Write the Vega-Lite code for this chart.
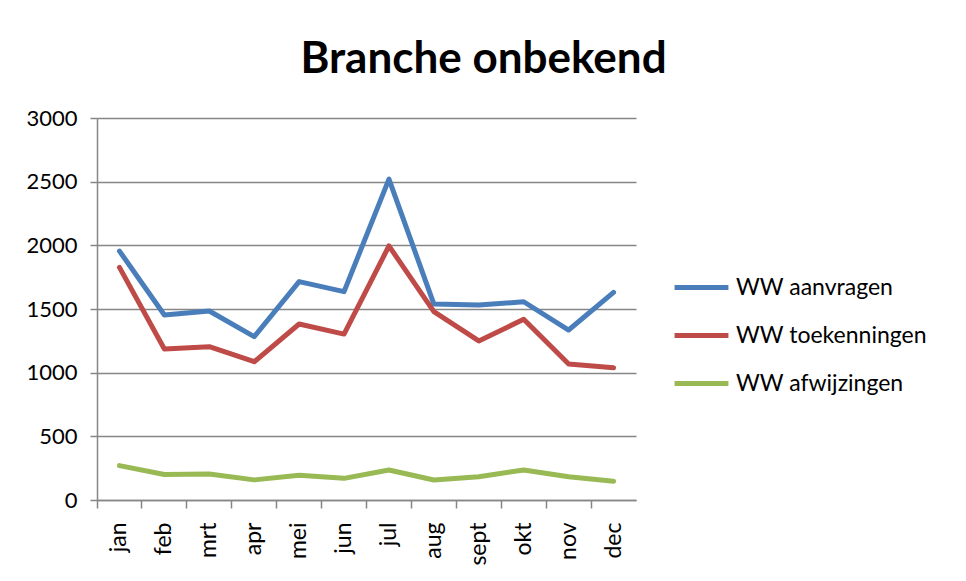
{
  "$schema": "https://vega.github.io/schema/vega-lite/v6.json",
  "autosize": {"type": "none"},
  "width": 539,
  "height": 382,
  "padding": {"left": 97, "top": 118, "right": 330, "bottom": 81},
  "background": "white",
  "title": {
    "text": "Branche onbekend",
    "font": "Lato",
    "fontSize": 44,
    "fontWeight": "bold",
    "color": "#000000",
    "anchor": "middle",
    "dx": 117,
    "offset": 25
  },
  "config": {
    "view": {"stroke": null},
    "font": "Lato"
  },
  "data": {
    "values": [
      {"maand": "jan", "reeks": "WW aanvragen", "waarde": 1955},
      {"maand": "feb", "reeks": "WW aanvragen", "waarde": 1453},
      {"maand": "mrt", "reeks": "WW aanvragen", "waarde": 1484},
      {"maand": "apr", "reeks": "WW aanvragen", "waarde": 1283},
      {"maand": "mei", "reeks": "WW aanvragen", "waarde": 1715},
      {"maand": "jun", "reeks": "WW aanvragen", "waarde": 1636},
      {"maand": "jul", "reeks": "WW aanvragen", "waarde": 2520},
      {"maand": "aug", "reeks": "WW aanvragen", "waarde": 1539},
      {"maand": "sept", "reeks": "WW aanvragen", "waarde": 1531},
      {"maand": "okt", "reeks": "WW aanvragen", "waarde": 1557},
      {"maand": "nov", "reeks": "WW aanvragen", "waarde": 1335},
      {"maand": "dec", "reeks": "WW aanvragen", "waarde": 1631},
      {"maand": "jan", "reeks": "WW toekenningen", "waarde": 1827},
      {"maand": "feb", "reeks": "WW toekenningen", "waarde": 1186},
      {"maand": "mrt", "reeks": "WW toekenningen", "waarde": 1204},
      {"maand": "apr", "reeks": "WW toekenningen", "waarde": 1086},
      {"maand": "mei", "reeks": "WW toekenningen", "waarde": 1382},
      {"maand": "jun", "reeks": "WW toekenningen", "waarde": 1303},
      {"maand": "jul", "reeks": "WW toekenningen", "waarde": 1995},
      {"maand": "aug", "reeks": "WW toekenningen", "waarde": 1479},
      {"maand": "sept", "reeks": "WW toekenningen", "waarde": 1249},
      {"maand": "okt", "reeks": "WW toekenningen", "waarde": 1419},
      {"maand": "nov", "reeks": "WW toekenningen", "waarde": 1068},
      {"maand": "dec", "reeks": "WW toekenningen", "waarde": 1039},
      {"maand": "jan", "reeks": "WW afwijzingen", "waarde": 270},
      {"maand": "feb", "reeks": "WW afwijzingen", "waarde": 200},
      {"maand": "mrt", "reeks": "WW afwijzingen", "waarde": 205},
      {"maand": "apr", "reeks": "WW afwijzingen", "waarde": 158},
      {"maand": "mei", "reeks": "WW afwijzingen", "waarde": 194},
      {"maand": "jun", "reeks": "WW afwijzingen", "waarde": 170},
      {"maand": "jul", "reeks": "WW afwijzingen", "waarde": 236},
      {"maand": "aug", "reeks": "WW afwijzingen", "waarde": 157},
      {"maand": "sept", "reeks": "WW afwijzingen", "waarde": 183},
      {"maand": "okt", "reeks": "WW afwijzingen", "waarde": 236},
      {"maand": "nov", "reeks": "WW afwijzingen", "waarde": 183},
      {"maand": "dec", "reeks": "WW afwijzingen", "waarde": 147}
    ]
  },
  "mark": {"type": "line", "strokeWidth": 5, "strokeCap": "round", "strokeJoin": "round"},
  "encoding": {
    "x": {
      "field": "maand",
      "type": "ordinal",
      "sort": ["jan", "feb", "mrt", "apr", "mei", "jun", "jul", "aug", "sept", "okt", "nov", "dec"],
      "scale": {"type": "band", "paddingInner": 0, "paddingOuter": 0},
      "bandPosition": 0.5,
      "axis": {
        "title": null,
        "bandPosition": 0,
        "grid": false,
        "labelAngle": 270,
        "labelAlign": "right",
        "labelBaseline": "middle",
        "labelFontSize": 23,
        "labelColor": "#000000",
        "labelPadding": 14,
        "tickSize": 8,
        "tickColor": "#868686",
        "tickWidth": 1.5,
        "domainColor": "#868686",
        "domainWidth": 1.5
      }
    },
    "y": {
      "field": "waarde",
      "type": "quantitative",
      "scale": {"domain": [0, 3000]},
      "axis": {
        "title": null,
        "values": [0, 500, 1000, 1500, 2000, 2500, 3000],
        "format": "d",
        "labelFontSize": 22,
        "labelColor": "#000000",
        "labelPadding": 13,
        "tickSize": 7,
        "tickColor": "#868686",
        "tickWidth": 1.5,
        "domainColor": "#868686",
        "domainWidth": 1.5,
        "gridColor": "#868686",
        "gridWidth": 1.5
      }
    },
    "color": {
      "field": "reeks",
      "type": "nominal",
      "scale": {
        "domain": ["WW aanvragen", "WW toekenningen", "WW afwijzingen"],
        "range": ["#4A7EBB", "#BE4B48", "#98B954"]
      },
      "legend": {
        "title": null,
        "orient": "none",
        "legendX": 575,
        "legendY": 140,
        "symbolType": "stroke",
        "symbolSize": 2900,
        "symbolStrokeWidth": 5,
        "labelFontSize": 23,
        "labelColor": "#000000",
        "labelOffset": 5,
        "labelLimit": 0,
        "rowPadding": 6
      }
    }
  }
}
